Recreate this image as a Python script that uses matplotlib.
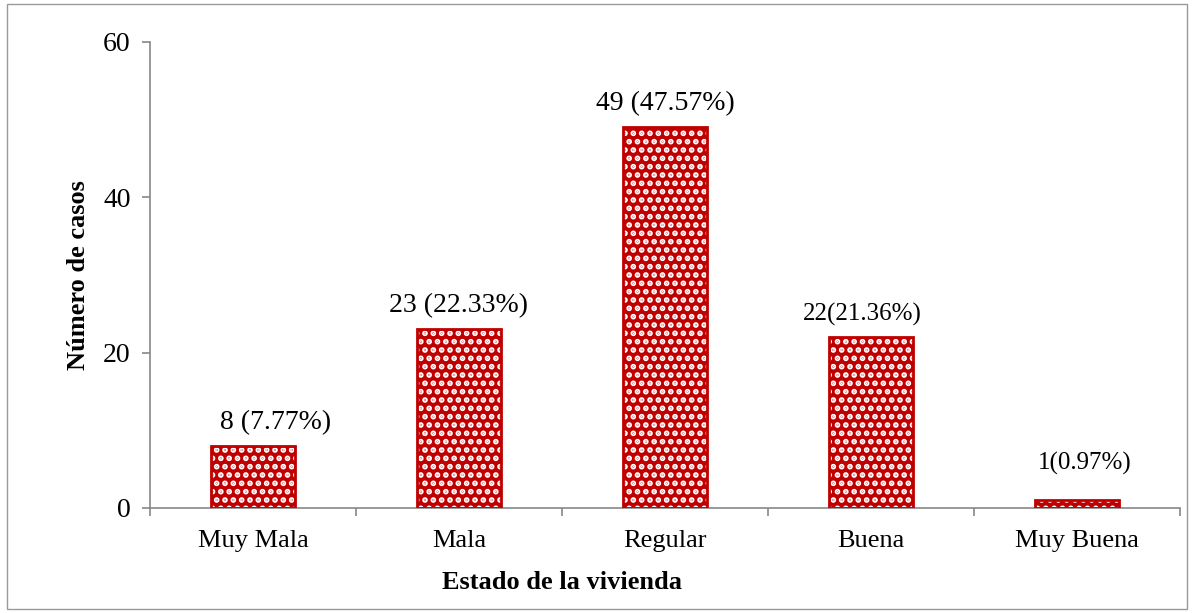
import numpy as np
import matplotlib.pyplot as plt
from matplotlib.patches import Rectangle

categorias = ["Muy Mala", "Mala", "Regular", "Buena", "Muy Buena"]
casos = [8, 23, 49, 22, 1]
etiquetas = ["8 (7.77%)", "23 (22.33%)", "49 (47.57%)", "22(21.36%)", "1(0.97%)"]

# label offsets (points) to mimic the original placement
dx = [16, 0, 0, -6, 6]
dy = [8, 8, 8, 8, 18]

plt.rcParams["font.family"] = ["Liberation Serif", "DejaVu Serif"]
plt.rcParams["hatch.linewidth"] = 2.8

fig = plt.figure(figsize=(11.92, 6.13), dpi=100)
ax = fig.add_axes([0.1258, 0.1713, 0.864, 0.7602])

x = np.arange(len(categorias))
red = "#C00000"
ax.bar(x, casos, width=0.41, color=red, hatch="..", edgecolor="white", linewidth=0, zorder=2)
ax.bar(x, casos, width=0.41, fill=False, edgecolor=red, linewidth=2, zorder=3)

for i in range(len(casos)):
    fs = 18 if i in (3, 4) else 20
    ax.annotate(etiquetas[i], (x[i], casos[i]), xytext=(dx[i], dy[i]),
                textcoords="offset points", ha="center", va="bottom", fontsize=fs)

ax.set_xlim(-0.5, len(categorias) - 0.5)
ax.set_ylim(0, 60)
ax.set_yticks([0, 20, 40, 60])
ax.set_xticks(x)
ax.set_xticklabels(categorias, fontsize=19)
ax.set_xticks(np.arange(-0.5, len(categorias)), minor=True)
ax.tick_params(axis="x", which="major", length=0, pad=16)
ax.tick_params(axis="x", which="minor", length=6, color="#888888", width=1.2)
ax.tick_params(axis="y", labelsize=20, length=6, color="#888888", width=1.2, pad=8)

for s in ["top", "right"]:
    ax.spines[s].set_visible(False)
ax.spines["left"].set_color("#888888")
ax.spines["bottom"].set_color("#888888")
ax.spines["left"].set_linewidth(1.2)
ax.spines["bottom"].set_linewidth(1.2)

ax.set_ylabel("Número de casos", fontsize=19, fontweight="bold")
ax.set_xlabel("Estado de la vivienda", fontsize=19, fontweight="bold")
ax.yaxis.set_label_coords(-0.058, 0.5)
ax.xaxis.set_label_coords(0.4, -0.135)

fig.patches.append(Rectangle((0.006, 0.006), 0.99, 0.988, transform=fig.transFigure,
                             fill=False, edgecolor="#999999", linewidth=1))

plt.savefig("out.png", dpi=100)
